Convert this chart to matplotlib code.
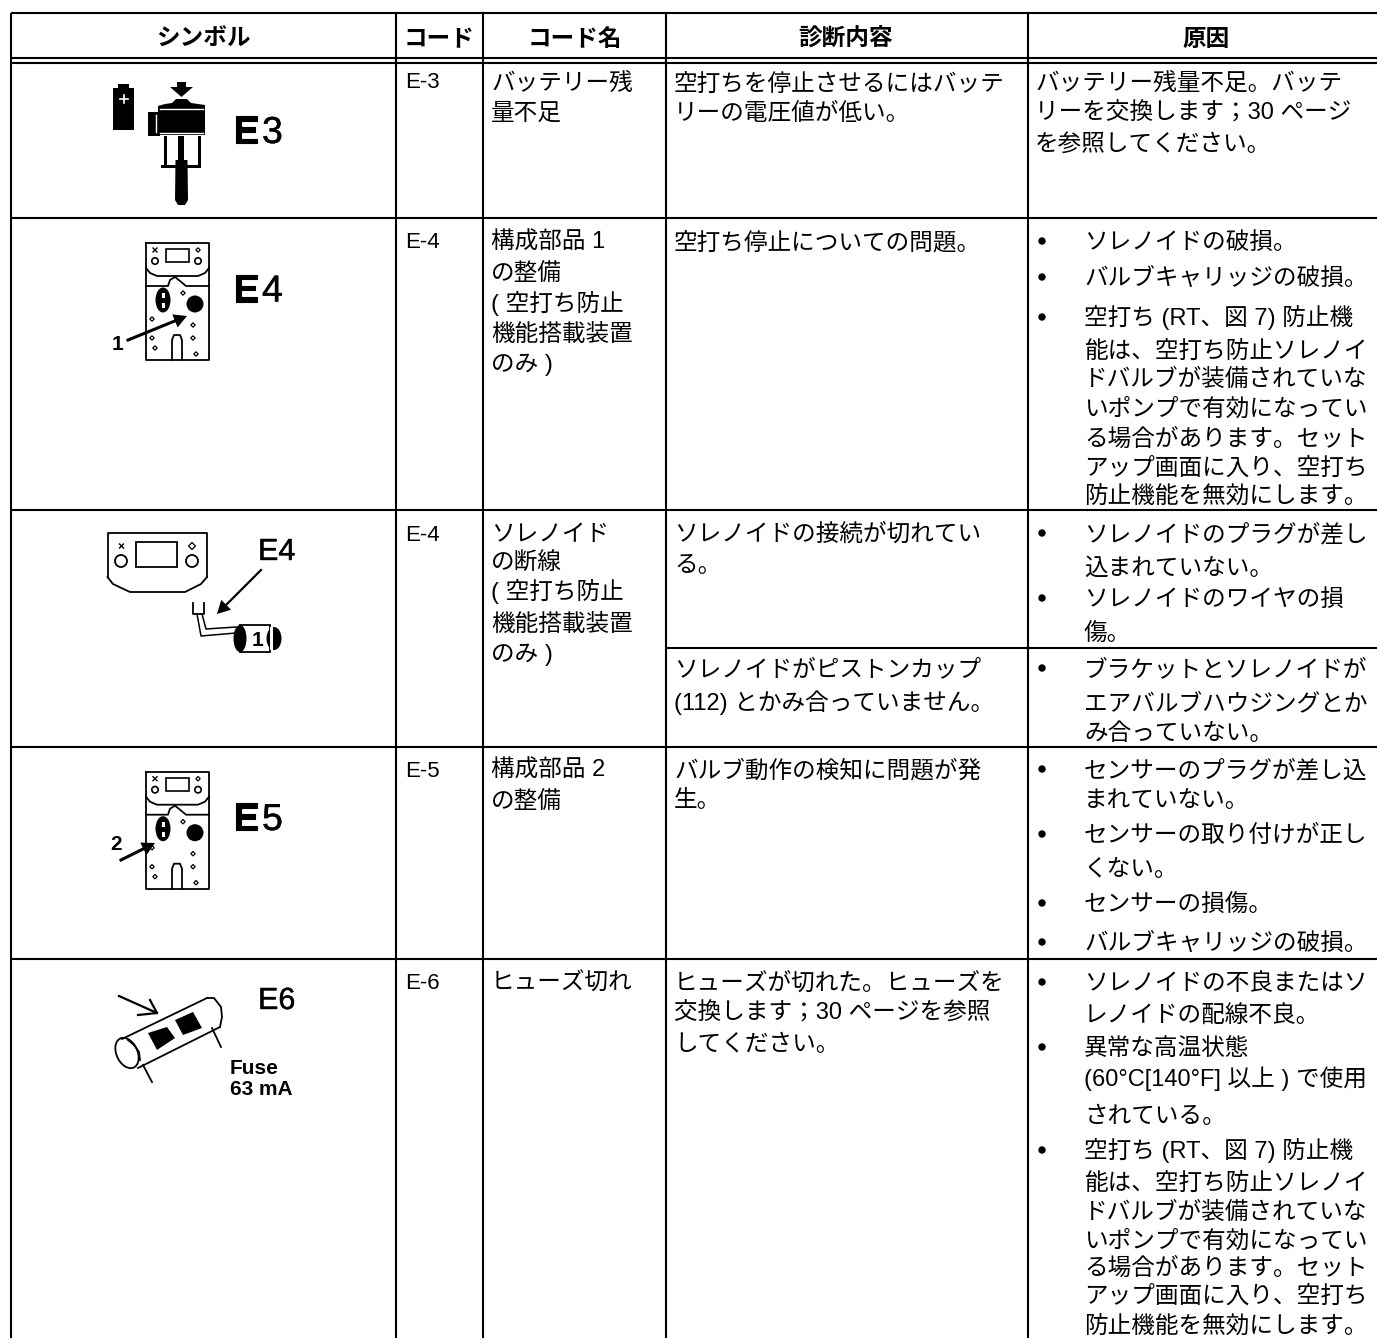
import matplotlib
matplotlib.use('Agg')
import matplotlib.pyplot as plt
import matplotlib.patheffects as pe
from matplotlib.patches import Polygon, Rectangle, Circle, Ellipse

plt.rcParams['font.family'] = ['Liberation Sans', 'Noto Sans CJK JP', 'DejaVu Sans']

#%% Table text

headers = ['シンボル', 'コード', 'コード名', '診断内容', '原因']
codes = ['E-3', 'E-4', 'E-4', 'E-5', 'E-6']

names = [
    ['バッテリー残', '量不足'],
    ['構成部品 1', 'の整備', '( 空打ち防止', '機能搭載装置', 'のみ )'],
    ['ソレノイド', 'の断線', '( 空打ち防止', '機能搭載装置', 'のみ )'],
    ['構成部品 2', 'の整備'],
    ['ヒューズ切れ'],
]
diagnosis = [
    ['空打ちを停止させるにはバッテ', 'リーの電圧値が低い。'],
    ['空打ち停止についての問題。'],
    ['ソレノイドの接続が切れてい', 'る。'],
    ['ソレノイドがピストンカップ', '(112) とかみ合っていません。'],
    ['バルブ動作の検知に問題が発', '生。'],
    ['ヒューズが切れた。ヒューズを', '交換します；30 ページを参照', 'してください。'],
]
cause_plain = ['バッテリー残量不足。バッテ', 'リーを交換します；30 ページ', 'を参照してください。']
causes = [
    ['ソレノイドの破損。', 'バルブキャリッジの破損。', '空打ち (RT、図 7) 防止機',
     '能は、空打ち防止ソレノイ', 'ドバルブが装備されていな', 'いポンプで有効になってい',
     'る場合があります。セット', 'アップ画面に入り、空打ち', '防止機能を無効にします。'],
    ['ソレノイドのプラグが差し', '込まれていない。', 'ソレノイドのワイヤの損', '傷。'],
    ['ブラケットとソレノイドが', 'エアバルブハウジングとか', 'み合っていない。'],
    ['センサーのプラグが差し込', 'まれていない。', 'センサーの取り付けが正し', 'くない。',
     'センサーの損傷。', 'バルブキャリッジの破損。'],
    ['ソレノイドの不良またはソ', 'レノイドの配線不良。', '異常な高温状態',
     '(60°C[140°F] 以上 ) で使用', 'されている。', '空打ち (RT、図 7) 防止機',
     '能は、空打ち防止ソレノイ', 'ドバルブが装備されていな', 'いポンプで有効になってい',
     'る場合があります。セット', 'アップ画面に入り、空打ち', '防止機能を無効にします。'],
]

#%% Layout in image pixels

W, H = 1377, 1338
col_x = [11, 396, 483, 666, 1028]
row_y = [13, 58, 63, 218, 510, 747, 959]
sub_y = 648     # extra line in the E-4 row, only over the last two columns

header_x = [203, 439, 575, 846, 1206]
code_y = [80, 240, 533, 769, 981]
name_y = [[83, 112], [241, 273, 303, 333, 363], [533, 562, 591, 623, 653], [769, 801], [982]]
diag_y = [[83, 112], [241], [533, 564], [668, 702], [769, 799], [982, 1012, 1043]]
plain_y = [83, 112, 143]
cause_y = [[241, 277, 317, 350, 378, 408, 438, 467, 495],
           [533, 567, 598, 632],
           [668, 702, 732],
           [769, 799, 834, 868, 903, 942],
           [982, 1015, 1047, 1078, 1115, 1150, 1182, 1211, 1240, 1267, 1295, 1325]]
bullet_y = [[241, 277, 317], [533, 598], [668], [769, 834, 903, 942], [982, 1047, 1150]]

fig = plt.figure(figsize=(W / 100, H / 100), dpi=100)
ax = fig.add_axes([0, 0, 1, 1])
ax.set_xlim(0, W)
ax.set_ylim(H, 0)
ax.axis('off')

LW = 1.5
FS = 17
heavy = [pe.withStroke(linewidth=0.3, foreground='black')]


def put(x, y, s, **kw):
    kw.setdefault('fontsize', FS)
    kw.setdefault('ha', 'left')
    kw.setdefault('va', 'baseline')
    kw.setdefault('color', 'black')
    ax.text(x, y, s, **kw)


def column(x, lines, ys):
    for s, y in zip(lines, ys):
        put(x, y + 8, s)


#%% Grid

for y in row_y:
    x0 = col_x[0]
    ax.plot([x0, W], [y, y], color='black', lw=LW, solid_capstyle='butt')
ax.plot([col_x[3], W], [sub_y, sub_y], color='black', lw=LW, solid_capstyle='butt')
for x in col_x:
    ax.plot([x, x], [row_y[0], H], color='black', lw=LW, solid_capstyle='butt')

#%% Text

for x, s in zip(header_x, headers):
    put(x, 46, s, ha='center', fontweight='bold')

for s, y in zip(codes, code_y):
    put(405, y + 8, s, fontsize=16)

for lines, ys in zip(names, name_y):
    column(491, lines, ys)
for lines, ys in zip(diagnosis, diag_y):
    column(674, lines, ys)
column(1035, cause_plain, plain_y)
for lines, ys in zip(causes, cause_y):
    column(1084, lines, ys)
for ys in bullet_y:
    for y in ys:
        ax.add_patch(Circle((1042, y), 3.7, color='black', lw=0))


#%% Icons

def box(x0, y0, x1, y1, fc='black', ec='none', lw=0):
    ax.add_patch(Rectangle((x0, y0), x1 - x0, y1 - y0, fc=fc, ec=ec, lw=lw))


def stroke(xs, ys, lw=1.3, color='black'):
    ax.plot(xs, ys, color=color, lw=lw, solid_joinstyle='round')


def blob(pts, fc='black'):
    ax.add_patch(Polygon(pts, closed=True, fc=fc, ec='none'))


def diamond(x, y, r=2.2):
    ax.add_patch(Polygon([(x - r, y), (x, y - r), (x + r, y), (x, y + r)], closed=True,
                         fc='white', ec='black', lw=0.9))


def cross(x, y, r=2):
    stroke([x - r, x + r], [y - r, y + r], lw=1.0)
    stroke([x - r, x + r], [y + r, y - r], lw=1.0)


def arrow(x0, y0, x1, y1, lw=2.2, head=10):
    # line with a filled head, same look as the scanned symbols
    dx, dy = x1 - x0, y1 - y0
    n = (dx ** 2 + dy ** 2) ** 0.5
    ux, uy = dx / n, dy / n
    stroke([x0, x1 - ux * head], [y0, y1 - uy * head], lw=lw)
    bx, by = x1 - ux * head * 1.3, y1 - uy * head * 1.3
    blob([(x1, y1), (bx - uy * head * 0.7, by + ux * head * 0.7),
          (bx + uy * head * 0.7, by - ux * head * 0.7)])


def code_label(y, num):
    put(233, y, 'E', fontsize=28, fontweight='bold', path_effects=[pe.withStroke(linewidth=0.8, foreground='black')])
    put(262, y, num, fontsize=27, path_effects=heavy)


def panel(dy):
    stroke([146, 209, 209, 146, 146], [243 + dy, 243 + dy, 360 + dy, 360 + dy, 243 + dy])
    stroke([146, 150, 157, 198, 205, 209],
           [268 + dy, 273 + dy, 276 + dy, 276 + dy, 273 + dy, 268 + dy])
    box(166, 249 + dy, 189, 262 + dy, fc='white', ec='black', lw=1.2)
    ax.add_patch(Circle((155, 261 + dy), 3.2, fc='white', ec='black', lw=1.2))
    ax.add_patch(Circle((198, 261 + dy), 3.2, fc='white', ec='black', lw=1.2))
    cross(155, 250 + dy)
    diamond(198, 250 + dy)
    stroke([146, 168, 170, 175, 180, 186, 209],
           [286 + dy, 286 + dy, 280 + dy, 277 + dy, 281 + dy, 286 + dy, 286 + dy])
    ax.add_patch(Ellipse((163, 300 + dy), 15, 25, fc='black', ec='none'))
    box(162, 293 + dy, 164.5, 298 + dy, fc='white')
    box(162, 303 + dy, 164.5, 308 + dy, fc='white')
    ax.add_patch(Circle((195, 304 + dy), 8.5, color='black', lw=0))
    stroke([172, 172, 174, 180, 182, 182],
           [360 + dy, 340 + dy, 335 + dy, 335 + dy, 340 + dy, 360 + dy])
    for x, y in [(183, 293), (152, 319), (193, 325), (152, 338), (193, 338), (155, 348), (196, 354)]:
        diamond(x, y + dy)


# E3: battery and pump
box(113, 88, 134, 130)
box(118, 84, 129, 89)
stroke([119.5, 127.5], [98.5, 98.5], color='white', lw=1.2)
stroke([123.5, 123.5], [94.5, 102.5], color='white', lw=1.2)
box(177, 82, 186, 88)
blob([(170, 87), (193, 87), (181.5, 97)])
blob([(158, 106), (165, 104), (172, 103), (176, 99), (187, 99), (191, 103), (205, 105), (205, 135), (158, 135)])
box(148, 112, 160, 136)
stroke([160, 203], [109, 109], color='white', lw=1)
stroke([160, 203], [133, 133], color='white', lw=1)
stroke([156, 156], [115, 132], color='white', lw=1)
box(163.5, 136, 166.5, 168)
box(197.5, 136, 200.5, 168)
box(178, 136, 184, 162)
box(161, 165, 201, 168)
blob([(175.5, 160), (187.5, 160), (188, 200), (185, 205), (178, 205), (175, 200)])
code_label(143, '3')

# E4 with component 1
panel(0)
arrow(128, 340, 187, 316)
put(112, 350, '1', fontsize=15, fontweight='bold')
code_label(301.5, '4')

# E4, solenoid unplugged
stroke([107.5, 107.5, 207, 207], [577, 532.5, 532.5, 577])
stroke([107.5, 113, 130, 185, 201, 207], [577, 584, 592, 592, 584, 577])
box(136, 542, 177, 567, fc='white', ec='black', lw=1.3)
ax.add_patch(Circle((121, 561), 6, fc='white', ec='black', lw=1.3))
ax.add_patch(Circle((192, 561), 6, fc='white', ec='black', lw=1.3))
cross(121.5, 546)
diamond(192, 546, r=3.5)
put(258, 560, 'E4', fontsize=22, path_effects=heavy)
arrow(261, 570, 217, 614, lw=1.6, head=10)
stroke([192.5, 192.5, 203.5, 203.5], [603, 614, 614, 603])
stroke([197, 201, 236], [614, 636, 633], lw=1.1)
stroke([202, 206, 236], [614, 629, 627], lw=1.1)
box(240, 625, 270, 652, fc='white', ec='black', lw=1.3)
ax.add_patch(Ellipse((240, 638.5), 13, 27, fc='black', ec='none'))
ax.add_patch(Ellipse((274, 638.5), 15, 23, fc='black', ec='none'))
box(270, 627, 273, 650, fc='white')
put(252, 646, '1', fontsize=15, fontweight='bold')

# E5 with component 2
panel(528.7)
arrow(121, 860, 155, 843)
put(110, 850, '2', fontsize=15, fontweight='bold')
code_label(830, '5')

# E6: fuse
ax.add_patch(Ellipse((127, 1053), 21, 32, angle=-25, fc='white', ec='black', lw=1.3))
stroke([122, 207], [1039, 998])
stroke([138, 220], [1068, 1027])
stroke([207, 214, 221, 222, 220], [998, 998, 1007, 1017, 1027])
stroke([128, 134, 139, 140], [1040, 1045, 1052, 1060])
blob([(148, 1033), (167, 1027), (175, 1038), (157, 1050)])
blob([(175, 1020), (193, 1012), (202, 1028), (183, 1035)])
stroke([143, 152], [1065, 1082])
stroke([212, 221], [1028, 1047])
stroke([119, 157], [996, 1013], lw=1.6)
stroke([150, 157, 138], [1000, 1013, 1015], lw=1.6)
put(258, 1009, 'E6', fontsize=22, path_effects=heavy)
put(230, 1074, 'Fuse', fontsize=15, fontweight='bold')
put(230, 1095, '63 mA', fontsize=15, fontweight='bold')

fig.savefig('out.png', dpi=100)
